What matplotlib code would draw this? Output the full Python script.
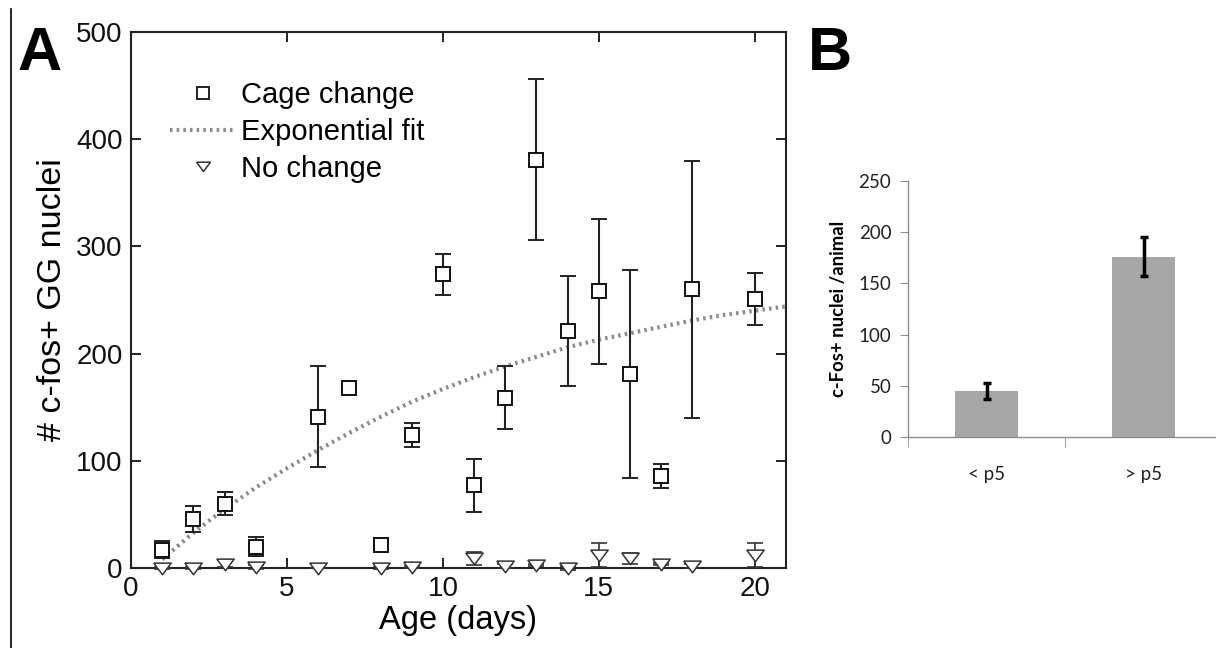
import numpy as np
import matplotlib
matplotlib.use("Agg")
import matplotlib.pyplot as plt
from matplotlib.lines import Line2D

# panel A: cage change (mean +/- error)
days_cage = [1, 2, 3, 4, 6, 7, 8, 9, 10, 11, 12, 13, 14, 15, 16, 17, 18, 20]
cage_mean = [17, 46, 60, 20, 141, 168, 21, 124, 274, 77, 159, 381, 221, 258, 181, 86, 260, 251]
cage_err = [8, 12, 11, 9, 47, 3, 4, 11, 19, 25, 29, 75, 51, 68, 97, 11, 120, 24]

# panel A: no change
days_none = [1, 2, 3, 4, 6, 8, 9, 11, 12, 13, 14, 15, 16, 17, 18, 20]
none_mean = [0, 0, 4, 1, 0, 0, 1, 9, 2, 3, 0, 12, 9, 4, 2, 12]
none_err = [1, 1, 3, 2, 0, 1, 1, 6, 2, 1, 2, 11, 5, 1, 2, 11]

# panel A: exponential fit at whole days
fit_days = [1, 2, 3, 4, 5, 6, 7, 8, 9, 10, 11, 12, 13, 14, 15, 16, 17, 18, 19, 20, 21]
fit_vals = [8, 33, 55, 75, 93, 110, 126, 141, 155, 167, 178, 188, 197, 206, 213, 219, 225, 231, 236, 240, 244]

# panel B
groups = ["< p5", "> p5"]
group_mean = [45, 176]
group_err = [8, 19]

W, H = 1216, 648
fig = plt.figure(figsize=(W / 100, H / 100), dpi=100)
plt.rcParams['font.family'] = ['Liberation Sans', 'DejaVu Sans']

# flat MATLAB-style down triangle
tri = [(-1, 0.62), (1, 0.62), (0, -0.72), (-1, 0.62)]
fit_style = dict(color='#8a8a8a', lw=3, ls=(0, (0.6, 1.0)))

# ---- panel A ----
axA = fig.add_axes([131 / W, (H - 568) / H, 655 / W, 536 / H])
axA.errorbar(days_cage, cage_mean, yerr=cage_err, fmt='s', mfc='white', mec='#111111',
             ms=9.5, mew=1.4, ecolor='#222222', elinewidth=1.5, capsize=6, capthick=1.5,
             zorder=3)
nc = axA.errorbar(days_none, none_mean, yerr=none_err, fmt='none', ecolor='#333333',
                  elinewidth=1.2, capsize=5.5, capthick=1.2, zorder=3)
pts = axA.plot(days_none, none_mean, ls='none', marker=tri, mfc='white', mec='#333333',
               ms=12.5, mew=1.1, zorder=3)
# triangles sitting on zero hang below the axis line, as in the original
pts[0].set_clip_on(False)
for art in list(nc[1]) + list(nc[2]):
    art.set_clip_on(False)
axA.plot(fit_days, fit_vals, zorder=2, **fit_style)

axA.set_xlim(0, 21)
axA.set_ylim(0, 500)
axA.set_xticks([0, 5, 10, 15, 20])
axA.set_yticks([0, 100, 200, 300, 400, 500])
axA.tick_params(direction='in', length=7, width=1.3, top=True, right=True,
                labelsize=20, pad=6, colors='#111111')
for s in axA.spines.values():
    s.set_linewidth(1.5)
    s.set_color('#222222')
axA.set_xlabel("Age (days)", fontsize=23.5, labelpad=2)
axA.set_ylabel("# c-fos+ GG nuclei", fontsize=24.5, labelpad=6)

handles = [
    Line2D([], [], marker='s', ls='none', mfc='white', mec='#111111', ms=8, mew=1.3),
    Line2D([], [], **fit_style),
    Line2D([], [], marker=tri, ls='none', mfc='white', mec='#333333', ms=10, mew=1.1),
]
axA.legend(handles, ["Cage change", "Exponential fit", "No change"], loc='upper left',
           bbox_to_anchor=(0.042, 0.93), frameon=False, fontsize=21, handlelength=2.25,
           handletextpad=0.17, labelspacing=0.3, borderaxespad=0)

# ---- panel B ----
axB = fig.add_axes([908 / W, (H - 437) / H, 314 / W, 256 / H])
x = np.arange(len(groups))
axB.bar(x, group_mean, width=0.4, color='#a6a6a6', zorder=2)
axB.errorbar(x, group_mean, yerr=group_err, fmt='none', ecolor='black', elinewidth=2.5,
             capsize=3, capthick=2.5, zorder=3)
axB.set_xlim(-0.5, 1.5)
axB.set_ylim(0, 250)
axB.set_yticks([0, 50, 100, 150, 200, 250])
axB.set_xticks(x)
axB.set_xticklabels(groups)
axB.set_xticks([-0.5, 0.5, 1.5], minor=True)
axB.tick_params(axis='x', which='major', length=0, pad=21, labelsize=13.5, labelcolor='#222222')
axB.tick_params(axis='x', which='minor', direction='out', length=7, color='#8c8c8c')
axB.tick_params(axis='y', direction='out', length=6, color='#8c8c8c', labelsize=13.5,
                labelcolor='#222222', pad=6)
for tl in axB.get_xticklabels() + axB.get_yticklabels():
    tl.set_family(['Lato', 'DejaVu Sans'])
for side in ['top', 'right']:
    axB.spines[side].set_visible(False)
for side in ['left', 'bottom']:
    axB.spines[side].set_color('#8c8c8c')
    axB.spines[side].set_linewidth(1.0)
axB.set_ylabel("c-Fos+ nuclei /animal", fontsize=13.3, fontweight='bold',
               family=['Lato', 'DejaVu Sans'], labelpad=8)

# panel letters and left rule
fig.text(17 / W, 1 - 70 / H, "A", fontsize=44, fontweight='bold', ha='left', va='baseline')
fig.text(808 / W, 1 - 70 / H, "B", fontsize=44, fontweight='bold', ha='left', va='baseline')
fig.add_artist(Line2D([11 / W, 11 / W], [0, 1 - 9 / H], color='black', lw=1.2))

fig.savefig("out.png", dpi=100)
